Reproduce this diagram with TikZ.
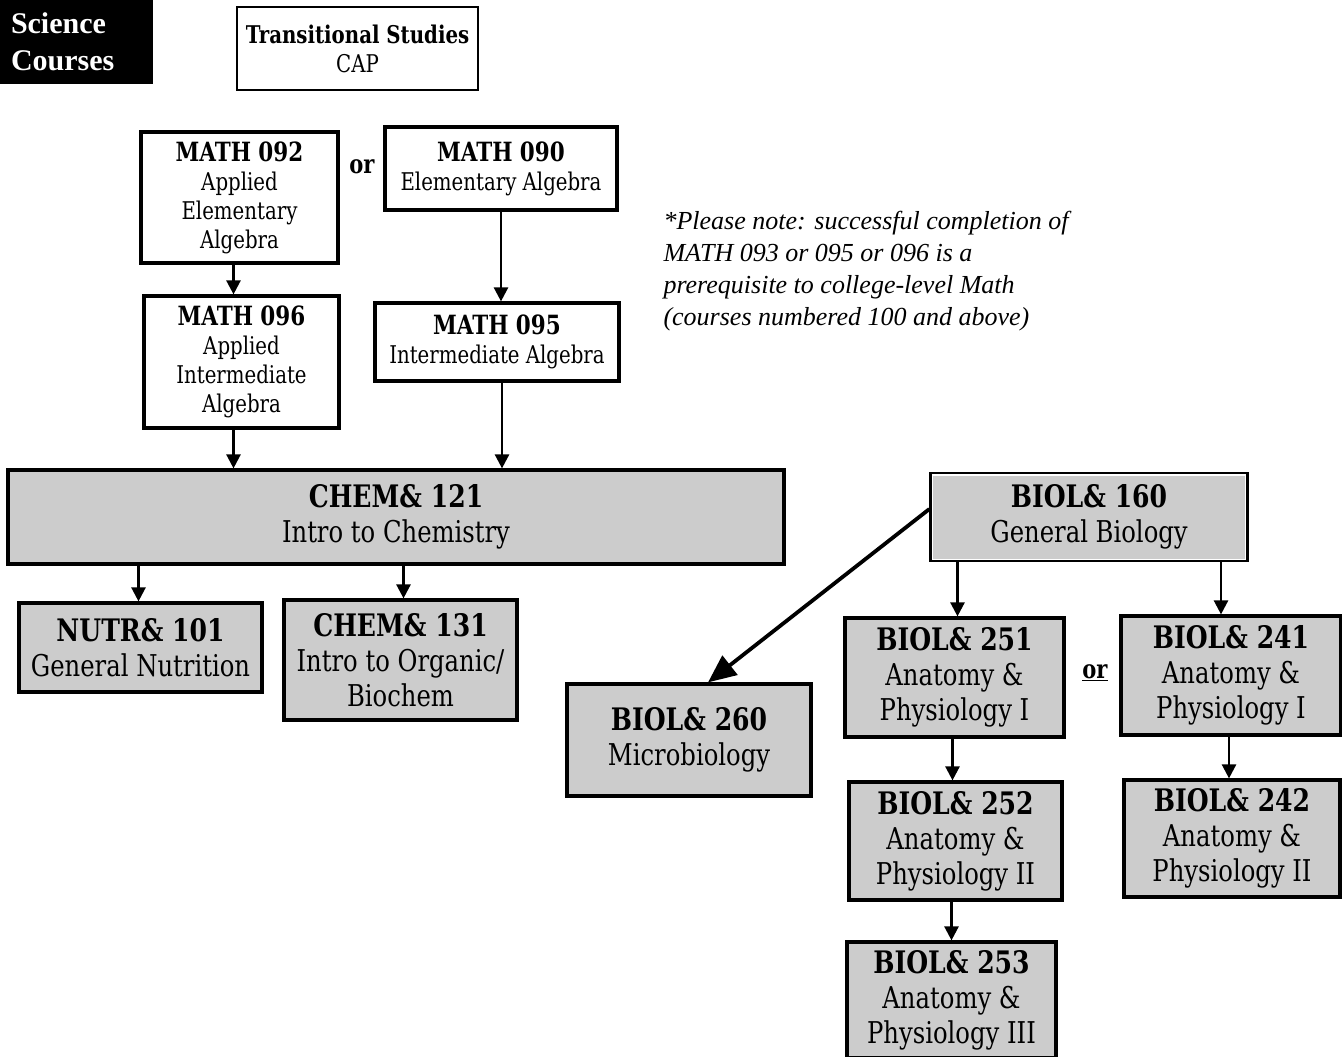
\documentclass[tikz,border=0pt]{standalone}
\usepackage{fontspec}
\usetikzlibrary{arrows.meta}
\usetikzlibrary{positioning}
\newfontfamily\boxfont[FakeStretch=0.9]{DejaVu Serif Condensed}
\newfontfamily\timesfont{Liberation Serif}
\newcommand{\smallhead}[1]{{\fontsize{26.5}{29}\selectfont\bfseries #1}}
\newcommand{\bighead}[1]{{\fontsize{31}{35}\selectfont\bfseries #1}}

\begin{document}
\begin{tikzpicture}[x=1pt,y=-1pt,
		course/.style={draw, line width=3.2pt, align=center, inner sep=0pt, font=\boxfont\fontsize{24.4}{29}\selectfont},
		greycourse/.style={course, fill=gray!40, font=\boxfont\fontsize{30}{35}\selectfont},
		prereq/.style={line width=2.5pt, -{Triangle[width=14pt,length=14pt]}},
		bigprereq/.style={line width=3.8pt, -{Triangle[width=24pt,length=28pt]}}]
		\useasboundingbox (0,0) rectangle (1342,1057);
		\node[fill=black, text=white, align=left, text width=131pt, inner xsep=11pt, minimum height=84pt, font=\timesfont\bfseries\fontsize{30}{37}\selectfont] (title) at (76.5,42) {Science\\Courses};
		\node[course, line width=1.5pt, minimum width=241pt, minimum height=83pt] (trans) at (357.5,48.5) {\textbf{Transitional Studies}\\CAP};
		\node[course, minimum width=197pt, minimum height=131pt] (m092) at (239.5,197.5) {\smallhead{MATH 092}\\Applied\\Elementary\\Algebra};
		\node[font=\boxfont\bfseries\fontsize{26}{29}\selectfont] (or1) at (362,167) {or};
		\node[course, minimum width=232pt, minimum height=83pt] (m090) at (501,168.5) {\smallhead{MATH 090}\\Elementary Algebra};
		\node[course, minimum width=195pt, minimum height=132pt] (m096) at (241.5,362) {\smallhead{MATH 096}\\Applied\\Intermediate\\Algebra};
		\node[course, minimum width=244pt, minimum height=78pt] (m095) at (497,342) {\smallhead{MATH 095}\\Intermediate Algebra};
		\node[align=left, anchor=west, font=\timesfont\itshape\fontsize{26}{32}\selectfont] (note) at (660,271) {*Please note: successful completion of\\MATH 093 or 095 or 096 is a\\prerequisite to college-level Math\\(courses numbered 100 and above)};
		\node[greycourse, minimum width=776pt, minimum height=94pt] (chem121) at (396,517) {\bighead{CHEM\& 121}\\Intro to Chemistry};
		\node[greycourse, minimum width=243pt, minimum height=89pt] (nutr101) at (140.5,647.5) {\bighead{NUTR\& 101}\\General Nutrition};
		\node[greycourse, minimum width=233pt, minimum height=120pt] (chem131) at (400.5,660) {\bighead{CHEM\& 131}\\Intro to Organic/\\Biochem};
		\node[greycourse, minimum width=316pt, minimum height=87pt] (b160) at (1089,517) {\bighead{BIOL\& 160}\\General Biology};
		\draw[white, line width=1.2pt] ([shift={(3,3)}]b160.north west) rectangle ([shift={(-3,-3)}]b160.south east);
		\node[greycourse, minimum width=244pt, minimum height=112pt] (b260) at (689,740) {\bighead{BIOL\& 260}\\Microbiology};
		\node[greycourse, minimum width=219pt, minimum height=119pt] (b251) at (954.5,677.5) {\bighead{BIOL\& 251}\\Anatomy \&\\Physiology I};
		\node[font=\boxfont\bfseries\fontsize{26}{29}\selectfont] (or2) at (1095,673) {\underline{or}};
		\node[greycourse, minimum width=220pt, minimum height=119pt] (b241) at (1231,675.5) {\bighead{BIOL\& 241}\\Anatomy \&\\Physiology I};
		\node[greycourse, minimum width=213pt, minimum height=118pt] (b252) at (955.5,841) {\bighead{BIOL\& 252}\\Anatomy \&\\Physiology II};
		\node[greycourse, minimum width=216pt, minimum height=117pt] (b242) at (1232,838.5) {\bighead{BIOL\& 242}\\Anatomy \&\\Physiology II};
		\node[greycourse, minimum width=209pt, minimum height=116pt] (b253) at (951.5,1000) {\bighead{BIOL\& 253}\\Anatomy \&\\Physiology III};
		\draw[prereq] ([xshift=-6pt]m092.south) -- ([xshift=-6pt]m092.south |- m096.north);
		\draw[prereq] (m090.south) -- (m090.south |- m095.north);
		\draw[prereq] ([xshift=-8pt]m096.south) -- ([xshift=-8pt]m096.south |- chem121.north);
		\draw[prereq] ([xshift=5pt]m095.south) -- ([xshift=5pt]m095.south |- chem121.north);
		\draw[prereq] ([xshift=-2pt]nutr101.north |- chem121.south) -- ([xshift=-2pt]nutr101.north);
		\draw[prereq] ([xshift=3pt]chem131.north |- chem121.south) -- ([xshift=3pt]chem131.north);
		\draw[bigprereq] ([yshift=8pt]b160.west) -- ([xshift=19pt]b260.north);
		\draw[prereq] ([xshift=3pt]b251.north |- b160.south) -- ([xshift=3pt]b251.north);
		\draw[prereq] ([xshift=-10pt]b241.north |- b160.south) -- ([xshift=-10pt]b241.north);
		\draw[prereq] ([xshift=-2pt]b251.south) -- ([xshift=-2pt]b251.south |- b252.north);
		\draw[prereq] ([xshift=-2pt]b241.south) -- ([xshift=-2pt]b241.south |- b242.north);
		\draw[prereq] (b253.north |- b252.south) -- (b253.north);
	    \end{tikzpicture}
\end{document}
